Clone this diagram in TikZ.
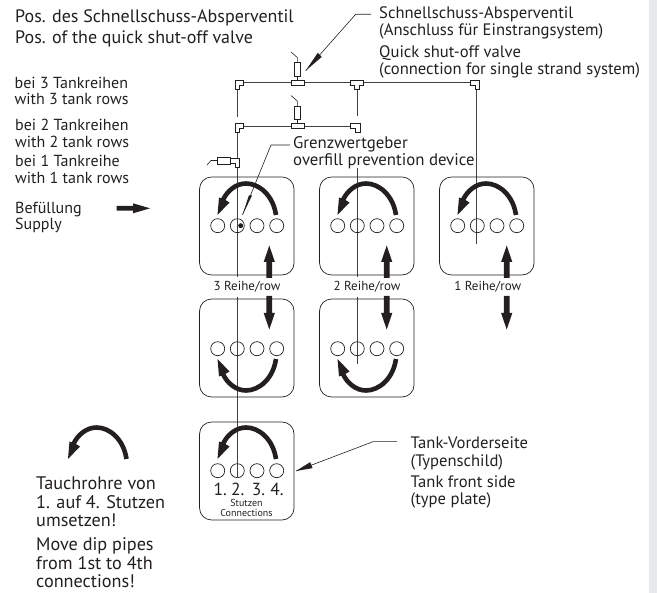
\documentclass[tikz,border=0pt]{standalone}
\usepackage{fontspec}
\setmainfont{PT Sans}
\usetikzlibrary{calc}
\definecolor{ink}{HTML}{231F20}
\definecolor{strip}{HTML}{E6E9EA}
\tikzset{
  lbl/.style={anchor=base west,inner sep=0pt,text=ink,font=\fontsize{#1}{#1}\selectfont},
  clbl/.style={anchor=base,inner sep=0pt,text=ink,font=\fontsize{#1}{#1}\selectfont},
  tankbox/.style={draw=ink,line width=0.7pt,rounded corners=12pt,minimum width=94.5pt,minimum height=98pt,inner sep=0pt},
  port/.style={draw=ink,line width=0.7pt,circle,minimum size=14pt,inner sep=0pt},
  pipe/.style={draw=ink!85,line width=0.7pt},
  fit/.style={draw=ink,line width=0.7pt,fill=white},
  leader/.style={draw=ink,line width=0.6pt},
  blk/.style={fill=ink,draw=none}
}
% bow arrow: origin is midpoint between the tips
\newcommand{\bowarrow}[3]{%
  \begin{scope}[shift={(#1,#2)},yscale=#3]
    \draw[ink,line width=4.6pt] (29,0) .. controls (26,-20) and (12,-31.5) .. (-1,-31.5) .. controls (-11,-31.5) and (-20,-24) .. (-24,-15);
    \fill[blk] (-29.5,0) -- (-28,-17.5) -- (-22.5,-15.5) -- (-17.5,-12.5) -- cycle;
  \end{scope}}
\newcommand{\uparr}[1]{\fill[blk] (#1-2.9,278) -- (#1-2.9,262) -- (#1-5.6,262) -- (#1,245.5) -- (#1+5.6,262) -- (#1+2.9,262) -- (#1+2.9,278) -- cycle;}
\newcommand{\downarr}[1]{\fill[blk] (#1-2.9,296) -- (#1-2.9,313) -- (#1-5.6,313) -- (#1,329.5) -- (#1+5.6,313) -- (#1+2.9,313) -- (#1+2.9,296) -- cycle;}
\newcommand{\ports}[3]{%
  \node[port] (#3a) at (#1-29.3,#2) {};
  \node[port] (#3b) at (#1-9.7,#2) {};
  \node[port] (#3c) at (#1+10,#2) {};
  \node[port] (#3d) at (#1+29.7,#2) {};}
% valve with stem and tee base; #1 = y of header
\newcommand{\valve}[1]{%
  \draw[leader] (291,#1-30.5) -- (297.3,#1-25) -- (297.3,#1-20);
  \draw[fit] (294,#1-20) rectangle (300.7,#1-6.5);
  \draw[fit] (297.3,#1-6.5) -- (297.3,#1-2.5);
  \draw[fit] (291,#1-2.5) rectangle (304,#1+2.5);}
\begin{document}
\begin{tikzpicture}[x=1pt,y=-1pt]
\useasboundingbox (0,0) rectangle (657,593);
\fill[strip] (649,0) rectangle (657,593);

% pipes
\coordinate (hTL) at (237.3,82.5);
\coordinate (hTR) at (476.7,82.5);
\coordinate (hBL) at (237.3,126);
\coordinate (hBR) at (357,126);
\coordinate (tM) at (357,82.5);
\draw[pipe] (hTL) -- (hTR);
\draw[pipe] (hBL) -- (hBR);
\draw[pipe] (hTL) -- (237.3,117);
\draw[pipe] (hBL) -- (237.3,277);
\draw[pipe] (237.3,297) -- (237.3,477);
\draw[pipe] (tM) -- (357,116);
\draw[pipe] (357,168) -- (357,277);
\draw[pipe] (357,297) -- (357,364);
\draw[pipe] (hTR) -- (476.7,244);

% elbows and tees
\draw[fit] (235,80) -- (243.7,80) -- (243.7,85) -- (239.3,85) -- (239.3,89) -- (235,89) -- cycle;
\draw[fit] (235,123.5) -- (243.7,123.5) -- (243.7,128.5) -- (239.3,128.5) -- (239.3,132.5) -- (235,132.5) -- cycle;
\draw[fit] (350.7,80) -- (363.7,80) -- (363.7,85) -- (359.3,85) -- (359.3,89) -- (354.7,89) -- (354.7,85) -- (350.7,85) -- cycle;
\draw[fit] (470.7,80) -- (479.3,80) -- (479.3,89) -- (475,89) -- (475,85) -- (470.7,85) -- cycle;
\draw[fit] (350.7,123.5) -- (360,123.5) -- (360,132.5) -- (355.5,132.5) -- (355.5,128.5) -- (350.7,128.5) -- cycle;
\valve{82.5}
\valve{126}
\draw[leader] (207,165) -- (211,160.5) -- (217,160.5);
\draw[fit] (217,157.7) rectangle (230,164);
\draw[fit] (230,158) -- (239.3,158) -- (239.3,167) -- (235,167) -- (235,163) -- (230,163) -- cycle;

% tanks
\node[tankbox] (t3a) at (246.8,226) {};
\node[tankbox] (t2a) at (366.8,226) {};
\node[tankbox] (t1a) at (486.8,226) {};
\node[tankbox] (t3b) at (246.8,348) {};
\node[tankbox] (t2b) at (366.8,348) {};
\node[tankbox] (t3c) at (246.8,471) {};
\ports{247}{225.7}{p3a}
\ports{367}{225.7}{p2a}
\ports{487}{225.7}{p1a}
\ports{247}{348.7}{p3b}
\ports{367}{348.7}{p2b}
\ports{247}{470.7}{p3c}
\bowarrow{247}{215}{1}
\bowarrow{367}{215}{1}
\bowarrow{487}{215}{1}
\bowarrow{247}{359}{-1}
\bowarrow{367}{359}{-1}
\bowarrow{247}{459}{1}
\bowarrow{97.5}{459}{1}
\uparr{269.3}\downarr{269.3}
\uparr{386.7}\downarr{386.7}
\uparr{506.7}\downarr{506.7}
\fill[blk] (116.7,206) -- (133,206) -- (133,203.3) -- (150,208.3) -- (133,213.3) -- (133,210.6) -- (116.7,210.6) -- cycle;
\node[circle,fill=ink,minimum size=5pt,inner sep=0pt] (sensor) at (240.7,225.7) {};

% leaders
\node[lbl=16.8] (gw) at (293,149) {Grenzwertgeber};
\node[lbl=16.8] (ov) at (293,166) {overfill prevention device};
\coordinate (gwa) at (290,145);
\coordinate (gwb) at (271,145);
\coordinate (gwt) at (242.5,215);
\draw[leader] (gwa) -- (gwb) -- (gwt);
\fill[blk] (gwt) -- ($(gwb)!0.72!(gwt)+(-1.6,0)$) -- ($(gwb)!0.72!(gwt)+(1.6,0)$) -- cycle;
\coordinate (qa) at (371,14.3);
\coordinate (qb) at (355.7,14.3);
\coordinate (qt) at (305.7,70.7);
\draw[leader] (qa) -- (qb) -- (qt);
\fill[blk] (qt) -- ($(qb)!0.72!(qt)+(-2,-2)$) -- ($(qb)!0.72!(qt)+(2,2)$) -- cycle;
\coordinate (ta) at (397,441.7);
\coordinate (tb) at (373,441.7);
\coordinate (tt) at (296,471);
\draw[leader] (ta) -- (tb) -- (tt);
\fill[blk] (tt) -- ($(tb)!0.8!(tt)+(-1.2,-3)$) -- ($(tb)!0.8!(tt)+(1.2,3)$) -- cycle;

% texts
\node[lbl=18] (n1) at (15,22.5) {Pos. des Schnellschuss-Absperventil};
\node[lbl=18] (n2) at (15,44) {Pos. of the quick shut-off valve};
\node[lbl=16.6] (n3) at (379,19) {Schnellschuss-Absperventil};
\node[lbl=16.6] (n4) at (379,36) {(Anschluss für Einstrangsystem)};
\node[lbl=16.6] (n5) at (379,58) {Quick shut-off valve};
\node[lbl=16.6] (n6) at (379,75) {(connection for single strand system)};
\node[lbl=16] (n7) at (14.5,89) {bei 3 Tankreihen};
\node[lbl=16] (n8) at (14.5,105) {with 3 tank rows};
\node[lbl=16] (n9) at (15,130.7) {bei 2 Tankreihen};
\node[lbl=16] (n10) at (15,147.3) {with 2 tank rows};
\node[lbl=16] (n11) at (15,166.7) {bei 1 Tankreihe};
\node[lbl=16] (n12) at (15,183.3) {with 1 tank rows};
\node[lbl=16] (n13) at (15,214) {Befüllung};
\node[lbl=16] (n14) at (15,230) {Supply};
\node[clbl=13] (r3) at (247,291) {3 Reihe/row};
\node[clbl=13] (r2) at (367,291) {2 Reihe/row};
\node[clbl=13] (r1) at (487.7,291) {1 Reihe/row};
\node[lbl=16.6] (n15) at (410.5,448.3) {Tank-Vorderseite};
\node[lbl=16.6] (n16) at (410.5,466.5) {(Typenschild)};
\node[lbl=16.6] (n17) at (410.5,487.3) {Tank front side};
\node[lbl=16.6] (n18) at (410.5,504.3) {(type plate)};
\node[clbl=17.5] (c1) at (220.3,495.5) {1.};
\node[clbl=17.5] (c2) at (237.8,495.5) {2.};
\node[clbl=17.5] (c3) at (258.5,495.5) {3.};
\node[clbl=17.5] (c4) at (277,495.5) {4.};
\node[clbl=10] (s1) at (246.5,506.5) {Stutzen};
\node[clbl=10] (s2) at (246.5,516.7) {Connections};
\node[lbl=18.2] (n19) at (36,490) {Tauchrohre von};
\node[lbl=18.2] (n20) at (36,509) {1. auf 4. Stutzen};
\node[lbl=18.2] (n21) at (36,526.7) {umsetzen!};
\node[lbl=18.2] (n22) at (36,551) {Move dip pipes};
\node[lbl=18.2] (n23) at (36,570) {from 1st to 4th};
\node[lbl=18.2] (n24) at (36,588) {connections!};
\end{tikzpicture}
\end{document}
